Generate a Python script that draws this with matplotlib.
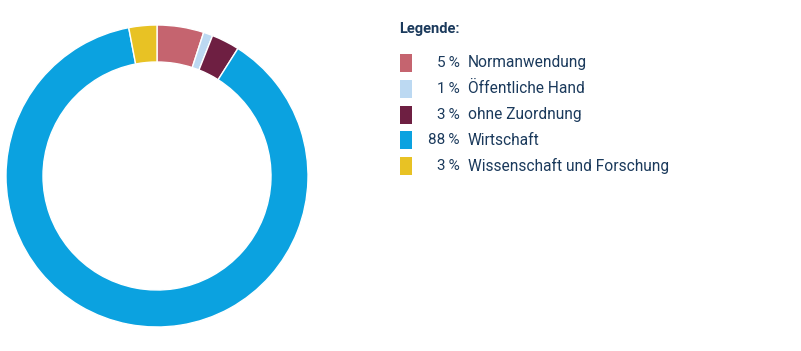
import matplotlib
matplotlib.use('Agg')
import matplotlib.pyplot as plt
from matplotlib.patches import Rectangle

labels = ['Normanwendung', 'Öffentliche Hand', 'ohne Zuordnung', 'Wirtschaft', 'Wissenschaft und Forschung']
shares = [5, 1, 3, 88, 3]
colors = ['#C5646F', '#BCD9F2', '#6E1F42', '#0BA2E0', '#E8C224']
text_color = '#1B3A5C'

plt.rcParams['font.family'] = ['Roboto', 'DejaVu Sans']

W, H = 801, 351
fig = plt.figure(figsize=(W / 100, H / 100), dpi=100)

# donut
ax = fig.add_axes([6 / W, 24 / H, 302 / W, 302 / H])
ax.pie(shares, colors=colors, startangle=90, counterclock=False,
       wedgeprops=dict(width=0.245, edgecolor='white', linewidth=1))
ax.set_xlim(-1, 1)
ax.set_ylim(-1, 1)
ax.set_aspect('equal')
ax.axis('off')

# legend
fig.text(399 / W, 1 - 29 / H, 'Legende:', fontsize=10.5, fontweight='bold',
         color=text_color, va='center', ha='left')
for i, (lab, val, col) in enumerate(zip(labels, shares, colors)):
    yc = 63 + i * 25.8
    fig.add_artist(Rectangle((400 / W, 1 - (yc + 9) / H), 12 / W, 18 / H,
                             transform=fig.transFigure, facecolor=col, edgecolor='none'))
    fig.text(460 / W, 1 - yc / H, f'{val}\u2009%', fontsize=11, color=text_color,
             va='center', ha='right')
    fig.text(468 / W, 1 - yc / H, lab, fontsize=11.2, color=text_color,
             va='center', ha='left')

fig.savefig('out.png', dpi=100, facecolor='white')
